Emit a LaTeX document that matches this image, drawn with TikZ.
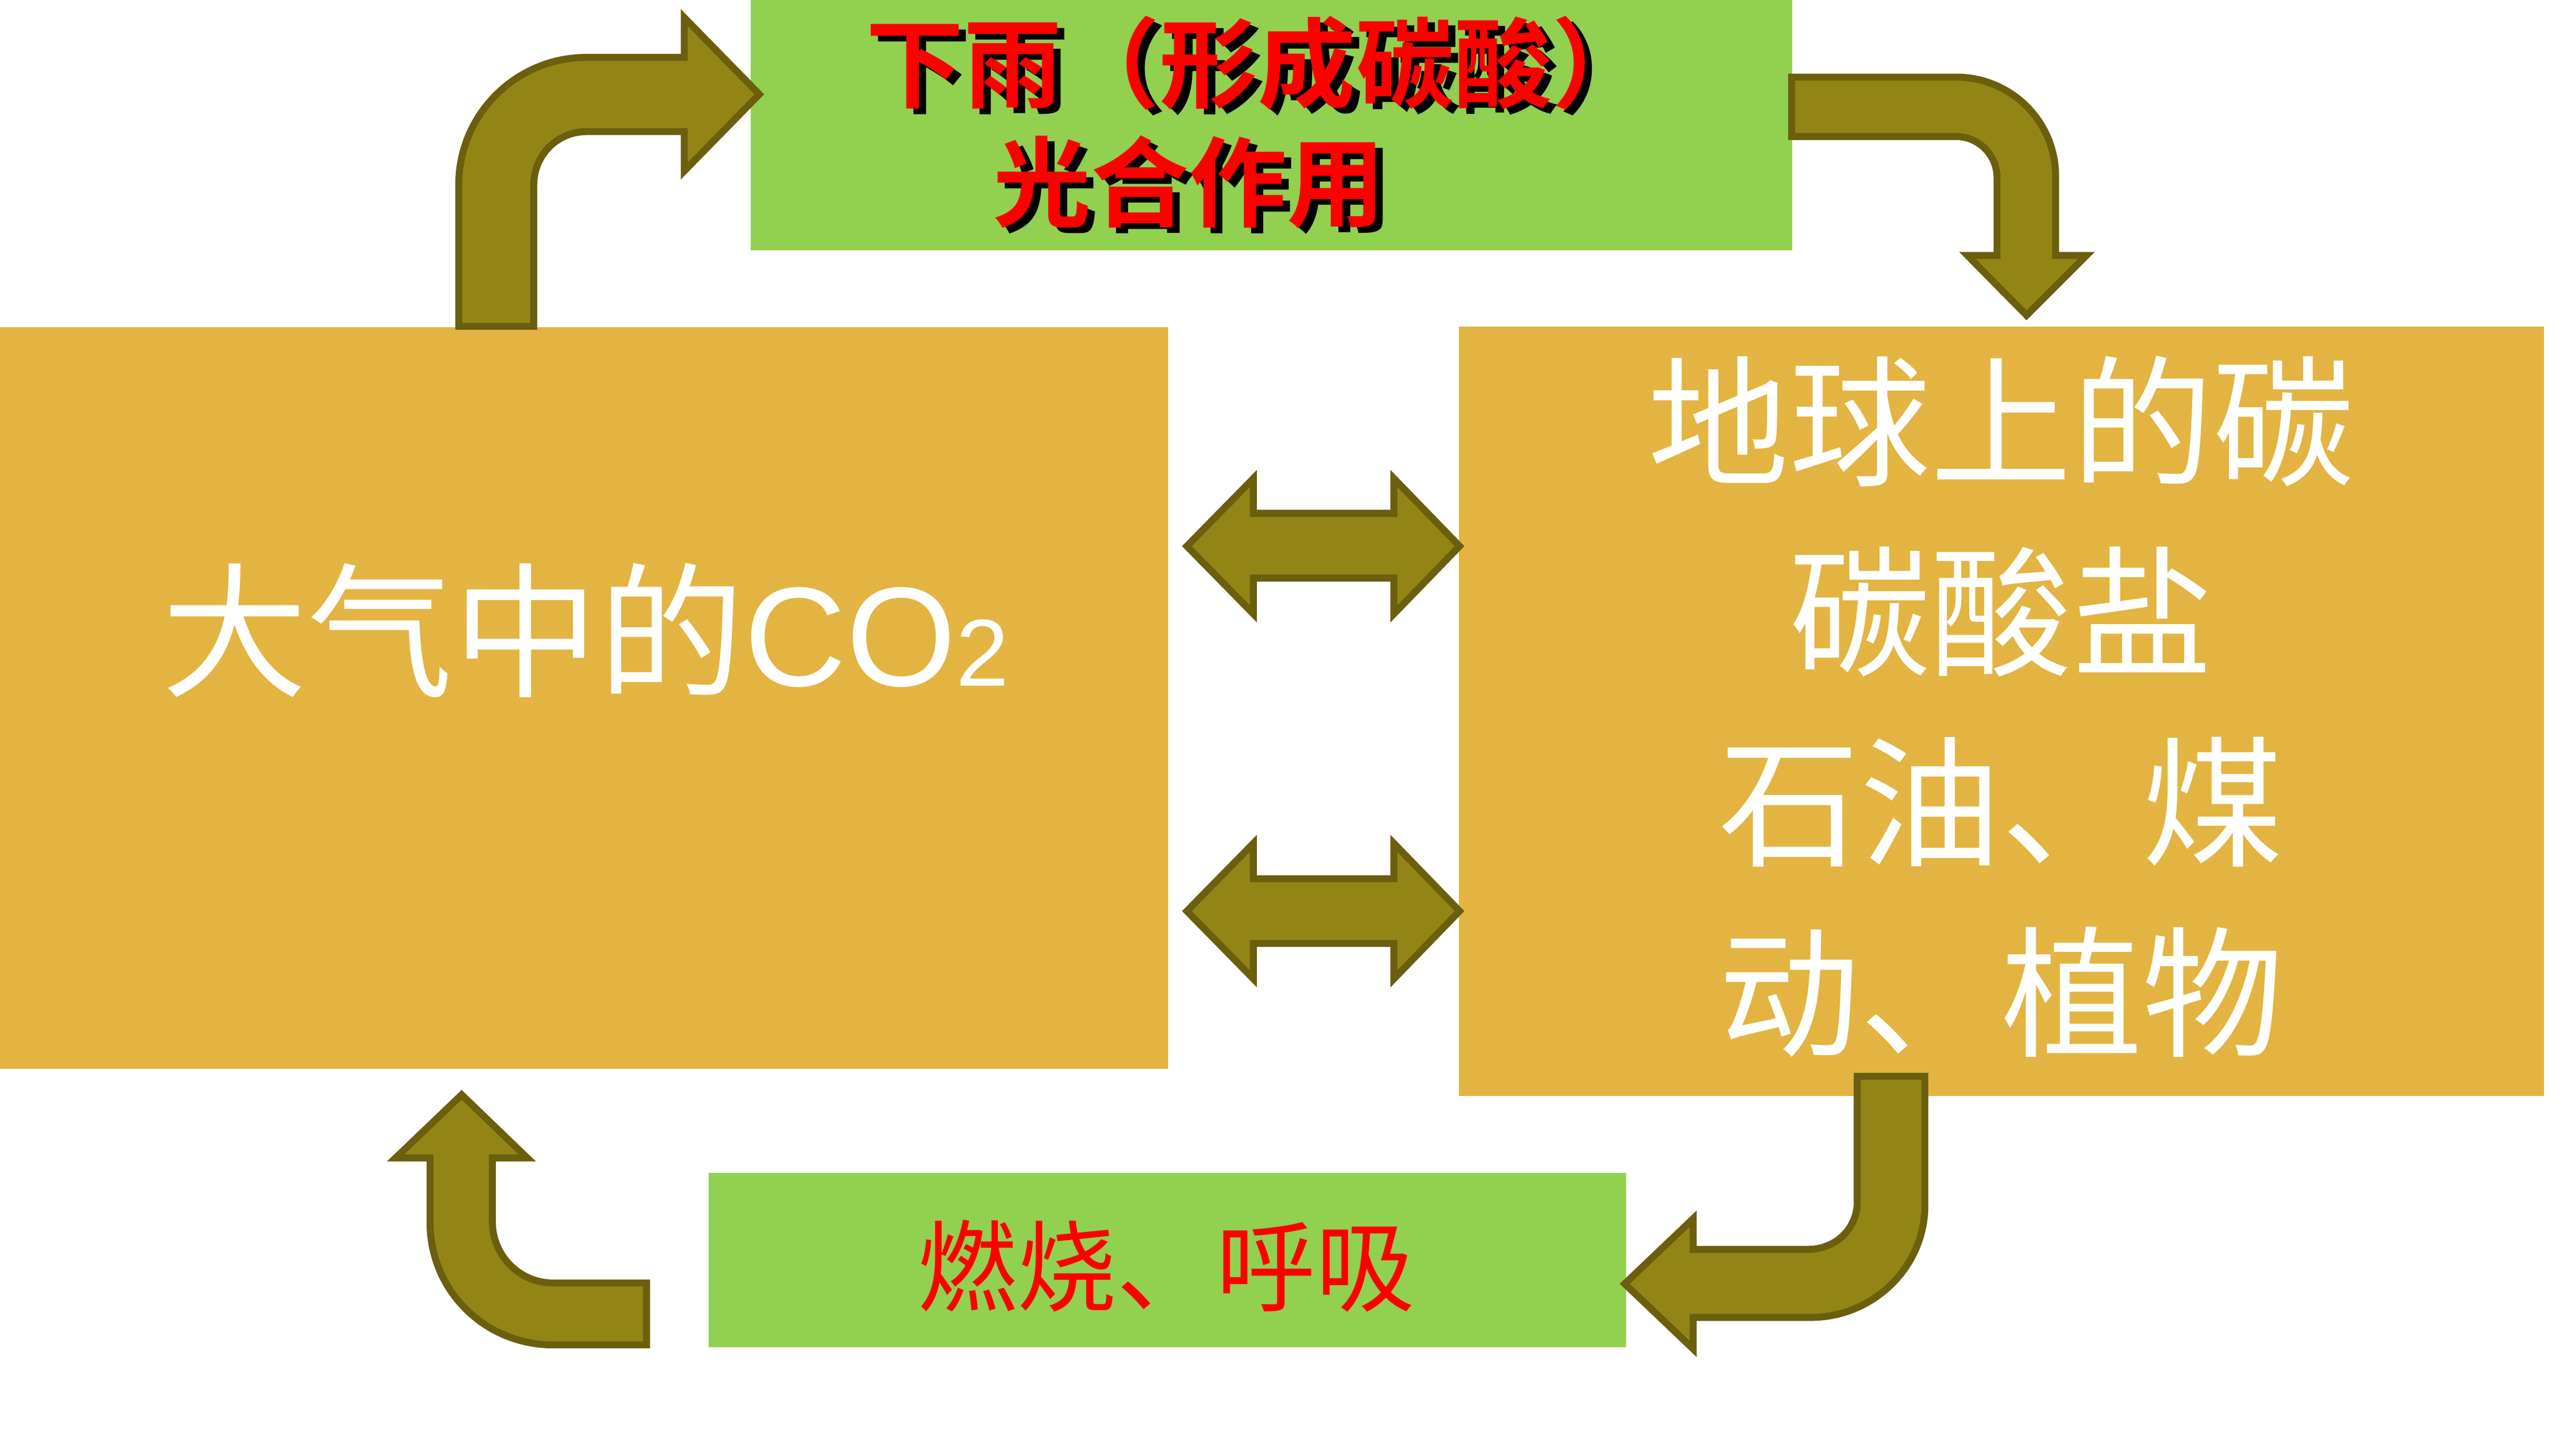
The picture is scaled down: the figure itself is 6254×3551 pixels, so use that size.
\documentclass[tikz,border=0pt]{standalone}
\usepackage{fontspec}
\newfontfamily\cjk{Noto Sans CJK SC}[BoldFont={Noto Sans CJK SC Bold}]
\newfontfamily\arialf{Liberation Sans}
\definecolor{boxgold}{RGB}{227,180,65}
\definecolor{boxgreen}{RGB}{146,208,80}
\definecolor{arrowfill}{RGB}{146,133,22}
\definecolor{arrowline}{RGB}{107,94,13}
\definecolor{txtred}{RGB}{255,0,0}
\newcommand{\shadowed}[1]{\makebox[0pt][l]{\hspace{5.1pt}\raisebox{-4pt}{\textcolor{black}{#1}}}#1}
\tikzset{
  goldbox/.style={fill=boxgold, draw=none, inner sep=0pt, outer sep=0pt, anchor=north west},
  greenbox/.style={fill=boxgreen, draw=none, inner sep=0pt, outer sep=0pt, anchor=north west},
  blockarrow/.style={fill=arrowfill, draw=arrowline, line width=0.17cm, line join=miter, miter limit=4},
  whitetxt/.style={text=white, inner sep=0pt, outer sep=0pt},
  redbold/.style={text=txtred, inner sep=0pt, outer sep=0pt, font=\cjk\bfseries\fontsize{68pt}{80pt}\selectfont},
  redthin/.style={text=txtred, inner sep=0pt, outer sep=0pt, font=\cjk\fontsize{69pt}{80pt}\selectfont}
}
\begin{document}
\begin{tikzpicture}[x=0.01cm,y=-0.01cm]
\fill[white] (0,0) rectangle (6254,3551);
\useasboundingbox (0,0) rectangle (6254,3551);

% boxes
\node[goldbox, minimum width=28.48cm, minimum height=18.08cm] (atmos) at (0,798) {};
\node[goldbox, minimum width=26.46cm, minimum height=18.75cm] (earth) at (3558,797) {};
\node[greenbox, minimum width=25.39cm, minimum height=6.10cm] (rain) at (1831,0) {};
\node[greenbox, minimum width=22.36cm, minimum height=4.25cm] (burn) at (1729,2860) {};

% texts
\node[whitetxt] (atmostxt) at (1428,1537) {{\cjk\fontsize{101pt}{120pt}\selectfont 大气中的}{\arialf\fontsize{98pt}{120pt}\selectfont CO{\fontsize{66pt}{80pt}\selectfont 2}}};
\node[whitetxt, align=center, font=\cjk\fontsize{98pt}{132pt}\selectfont] (earthtxt) at (4881,1723) {地球上的碳\\碳酸盐\\石油、煤\\动、植物};

\node[redbold] (raintxt1) at (3068,161) {\shadowed{下雨（形成碳酸）}};
\node[redbold] (raintxt2) at (2900,451) {\shadowed{光合作用}};

\node[redthin] (burntxt) at (2845,3087) {燃烧、呼吸};

% top-left bent arrow (atmosphere -> rain)
\draw[blockarrow] (1119,796) -- (1119,450)
  .. controls (1119,279) and (1259,140) .. (1430,140)
  -- (1669,140) -- (1669,43) -- (1852,230) -- (1669,417) -- (1669,321) -- (1430,321)
  .. controls (1359,321) and (1302,379) .. (1302,450)
  -- (1302,796) -- cycle;

% top-right bent arrow (rain -> earth)
\draw[blockarrow] (4370,188) -- (4771,188)
  .. controls (4905,188) and (5014,296) .. (5014,430)
  -- (5014,623) -- (5089,623) -- (4943,769) -- (4799,623) -- (4871,623) -- (4871,433)
  .. controls (4871,378) and (4826,333) .. (4771,333)
  -- (4370,333) -- cycle;

% bottom-right bent arrow (earth -> burning)
\draw[blockarrow] (4530,2625) -- (4695,2625) -- (4695,2940)
  .. controls (4695,3091) and (4568,3213) .. (4417,3213)
  -- (4130,3213) -- (4130,3290) -- (3963,3131) -- (4130,2972) -- (4130,3047) -- (4411,3047)
  .. controls (4476,3047) and (4530,2997) .. (4530,2932)
  -- cycle;

% bottom-left bent arrow (burning -> atmosphere)
\draw[blockarrow] (1126,2670) -- (1286,2824) -- (1201,2824) -- (1201,2980)
  .. controls (1201,3062) and (1267,3129) .. (1349,3129)
  -- (1577,3129) -- (1577,3280) -- (1349,3280)
  .. controls (1183,3280) and (1049,3148) .. (1049,2982)
  -- (1049,2824) -- (965,2824) -- cycle;

% double arrows between the two big boxes
\draw[blockarrow] (2895,1332) -- (3057,1167) -- (3057,1252) -- (3400,1252) -- (3400,1167)
  -- (3560,1332) -- (3400,1497) -- (3400,1410) -- (3057,1410) -- (3057,1497) -- cycle;
\draw[blockarrow] (2895,2222) -- (3057,2057) -- (3057,2143) -- (3400,2143) -- (3400,2057)
  -- (3560,2222) -- (3400,2387) -- (3400,2301) -- (3057,2301) -- (3057,2387) -- cycle;
\end{tikzpicture}
\end{document}
